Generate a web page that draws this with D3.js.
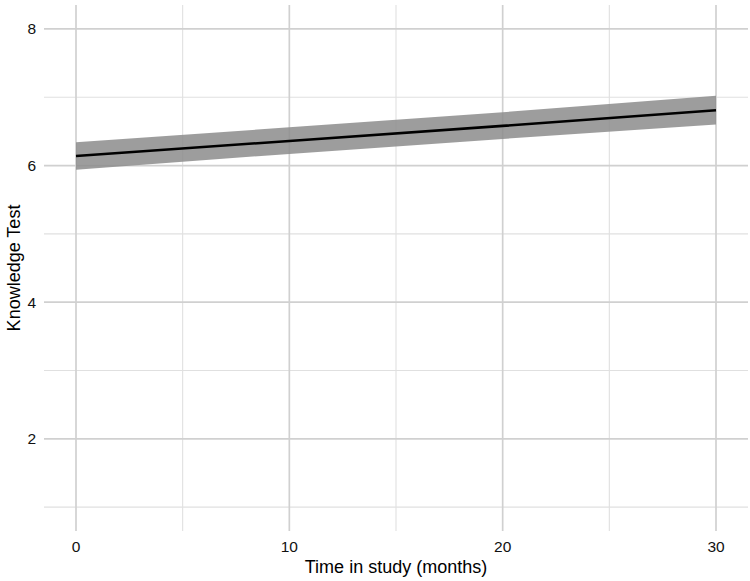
<!DOCTYPE html>
<html>
<head>
<meta charset="utf-8">
<script src="https://cdn.jsdelivr.net/npm/d3@7"></script>
<style>
body { margin: 0; background: #fff; }
text { font-family: "Liberation Sans", Arial, sans-serif; }
</style>
</head>
<body>
<svg id="chart" width="750" height="581"></svg>
<script>
const months = [0, 10, 20, 30];
const fitValues = [6.14, 6.36, 6.58, 6.81];
const lowerValues = [5.94, 6.17, 6.39, 6.60];
const upperValues = [6.34, 6.56, 6.78, 7.02];
const xTicks = [0, 10, 20, 30];
const xMinorTicks = [5, 15, 25];
const yTicks = [2, 4, 6, 8];
const yMinorTicks = [1, 3, 5, 7];

const svg = d3.select("#chart");
const pLeft = 44, pRight = 748, pTop = 5, pBottom = 531;

const x = d3.scaleLinear().domain([-1.5, 31.5]).range([pLeft, pRight]);
const y = d3.scaleLinear().domain([0.65, 8.35]).range([pBottom, pTop]);

const data = months.map((m, i) => ({ m, fit: fitValues[i], lo: lowerValues[i], hi: upperValues[i] }));

const grid = svg.append("g");
grid.selectAll(".ymin").data(yMinorTicks).join("line")
  .attr("x1", pLeft).attr("x2", pRight)
  .attr("y1", d => y(d)).attr("y2", d => y(d))
  .attr("stroke", "#e0e0e0").attr("stroke-width", 1.1);
grid.selectAll(".xmin").data(xMinorTicks).join("line")
  .attr("y1", pTop).attr("y2", pBottom)
  .attr("x1", d => x(d)).attr("x2", d => x(d))
  .attr("stroke", "#e0e0e0").attr("stroke-width", 1.1);
grid.selectAll(".ymaj").data(yTicks).join("line")
  .attr("x1", pLeft).attr("x2", pRight)
  .attr("y1", d => y(d)).attr("y2", d => y(d))
  .attr("stroke", "#d0d0d0").attr("stroke-width", 1.7);
grid.selectAll(".xmaj").data(xTicks).join("line")
  .attr("y1", pTop).attr("y2", pBottom)
  .attr("x1", d => x(d)).attr("x2", d => x(d))
  .attr("stroke", "#d0d0d0").attr("stroke-width", 1.7);

svg.append("path").datum(data)
  .attr("fill", "#8c8c8c").attr("fill-opacity", 0.85)
  .attr("d", d3.area().x(d => x(d.m)).y0(d => y(d.lo)).y1(d => y(d.hi)));

svg.append("path").datum(data)
  .attr("fill", "none").attr("stroke", "#000").attr("stroke-width", 2.6)
  .attr("d", d3.line().x(d => x(d.m)).y(d => y(d.fit)));

svg.selectAll(".xt").data(xTicks).join("text")
  .attr("x", d => x(d)).attr("y", 552)
  .attr("text-anchor", "middle").attr("font-size", 15.5).attr("fill", "#111")
  .text(d => d);
svg.selectAll(".yt").data(yTicks).join("text")
  .attr("x", 36).attr("y", d => y(d) + 5.5)
  .attr("text-anchor", "end").attr("font-size", 15.5).attr("fill", "#111")
  .text(d => d);

svg.append("text").attr("x", (pLeft + pRight) / 2).attr("y", 573)
  .attr("text-anchor", "middle").attr("font-size", 18).attr("fill", "#000")
  .text("Time in study (months)");
svg.append("text").attr("transform", `translate(20,${(pTop + pBottom) / 2}) rotate(-90)`)
  .attr("text-anchor", "middle").attr("font-size", 18).attr("fill", "#000")
  .text("Knowledge Test");
</script>
</body>
</html>
